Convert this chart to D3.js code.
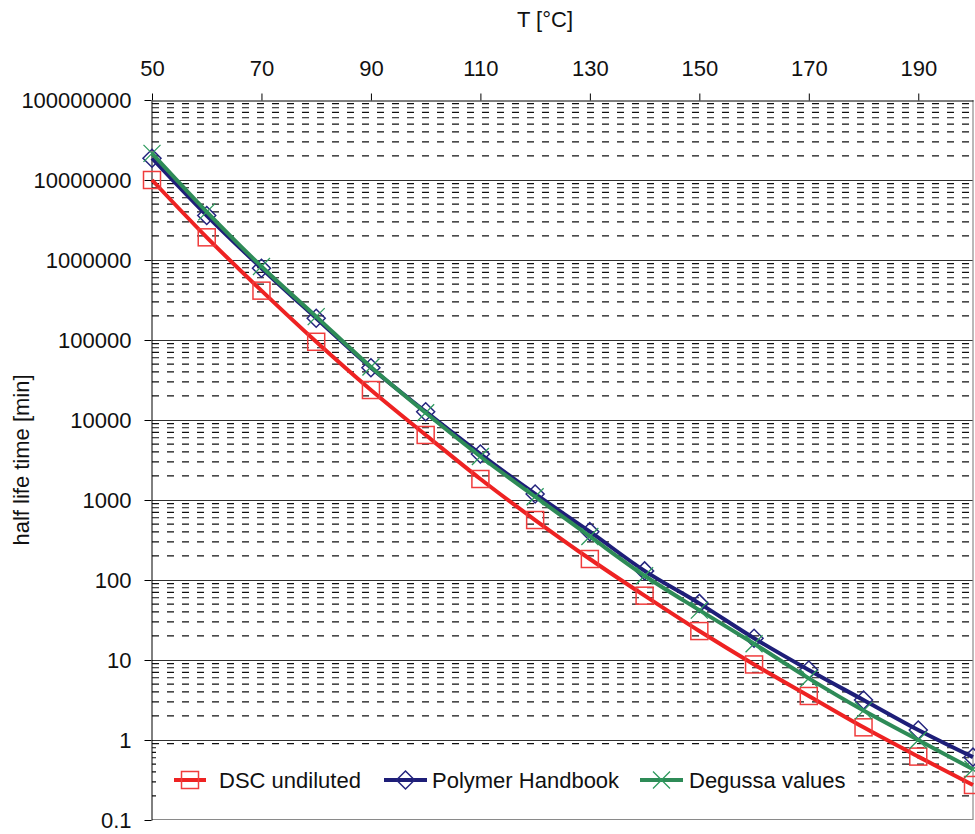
<!DOCTYPE html>
<html>
<head>
<meta charset="utf-8">
<script src="https://cdn.jsdelivr.net/npm/d3@7"></script>
<style>
  html, body { margin: 0; padding: 0; background: #fff; }
  svg text { font-family: "Liberation Sans", Arial, sans-serif; fill: #111; }
</style>
</head>
<body>
<svg id="chart" width="975" height="834"></svg>
<script>
// Temperatures [°C]
const temperatures = [50, 60, 70, 80, 90, 100, 110, 120, 130, 140, 150, 160, 170, 180, 190, 200];

// Half life time [min] for each source
const dscUndiluted = [1.0e7, 1.92e6, 4.14e5, 9.5e4, 2.37e4, 6.5e3, 1.83e3, 562, 183, 63.7, 23, 8.8, 3.55, 1.44, 0.62, 0.274];
const polymerHandbook = [1.87e7, 3.6e6, 7.9e5, 1.87e5, 4.5e4, 1.27e4, 3.76e3, 1.19e3, 402, 130, 51, 18.7, 7.5, 3.16, 1.33, 0.61];
const degussaValues = [2.15e7, 4.0e6, 8.3e5, 1.96e5, 4.6e4, 1.23e4, 3.5e3, 1.1e3, 350, 113, 42, 16, 5.9, 2.33, 1.0, 0.43];

const seriesNames = ["DSC undiluted", "Polymer Handbook", "Degussa values"];

// Axis ticks
const xTickValues = [50, 70, 90, 110, 130, 150, 170, 190];
const yTickValues = [0.1, 1, 10, 100, 1000, 10000, 100000, 1000000, 10000000, 100000000];
const yTickLabels = ["0.1", "1", "10", "100", "1000", "10000", "100000", "1000000", "10000000", "100000000"];

const svg = d3.select("#chart");
const plotLeft = 152, plotRight = 973, plotTop = 100, plotBottom = 820;

const x = d3.scaleLinear().domain([50, 200]).range([plotLeft, plotRight]);
const y = d3.scaleLog().domain([0.1, 1e8]).range([plotBottom, plotTop]);

// Minor gridlines (2..9 within each decade), dashed
const minor = [];
yTickValues.slice(0, -1).forEach(d => { for (let k = 2; k <= 9; k++) minor.push(d * k); });
svg.append("g").selectAll("line").data(minor).join("line")
  .attr("x1", plotLeft).attr("x2", plotRight)
  .attr("y1", d => y(d)).attr("y2", d => y(d))
  .attr("stroke", "#111").attr("stroke-width", 1.15)
  .attr("stroke-dasharray", "7,8");

// Major gridlines at each decade
svg.append("g").selectAll("line").data(yTickValues.slice(1, -1)).join("line")
  .attr("x1", plotLeft).attr("x2", plotRight)
  .attr("y1", d => Math.round(y(d)) + 0.5).attr("y2", d => Math.round(y(d)) + 0.5)
  .attr("stroke", "#333").attr("stroke-width", 1);

// Plot frame: right and bottom edges
svg.append("line").attr("x1", plotRight).attr("x2", plotRight).attr("y1", plotTop).attr("y2", plotBottom)
  .attr("stroke", "#8a8a8a").attr("stroke-width", 1.2);
svg.append("line").attr("x1", plotLeft).attr("x2", plotRight).attr("y1", plotBottom - 0.5).attr("y2", plotBottom - 0.5)
  .attr("stroke", "#8a8a8a").attr("stroke-width", 1.2);

// Top temperature axis
const xAxis = svg.append("g").attr("transform", `translate(0,${plotTop + 0.5})`)
  .call(d3.axisTop(x).tickValues(xTickValues).tickSize(7).tickPadding(18).tickSizeOuter(0));
xAxis.select(".domain").attr("stroke", "#000");
xAxis.selectAll(".tick line").attr("stroke", "#000");
xAxis.selectAll("text").style("font-size", "22px").attr("fill", "#111");

// Left log axis
const yAxis = svg.append("g").attr("transform", `translate(${plotLeft - 0.5},0)`)
  .call(d3.axisLeft(y).tickValues(yTickValues).tickSize(7).tickPadding(13).tickSizeOuter(0)
    .tickFormat((d, i) => yTickLabels[i]));
yAxis.select(".domain").attr("stroke", "#000");
yAxis.selectAll(".tick line").attr("stroke", "#000");
yAxis.selectAll("text").style("font-size", "22px").attr("fill", "#111");

// Axis titles
svg.append("text").attr("x", 545).attr("y", 27).attr("text-anchor", "middle")
  .style("font-size", "22px").text("T [°C]");
svg.append("text").attr("transform", "translate(29,460) rotate(-90)").attr("text-anchor", "middle")
  .style("font-size", "22px").text("half life time [min]");

// Legend background
svg.append("rect").attr("x", 156).attr("y", 746).attr("width", 702).attr("height", 71).attr("fill", "#fff");

const colors = ["#EE2222", "#1E1E78", "#2E8B57"];
const markerColors = ["#F03C3C", "#24247E", "#2E9A5E"];
const dataSets = [dscUndiluted, polymerHandbook, degussaValues];

function drawMarker(g, kind, cx, cy) {
  if (kind === 0) {
    g.append("rect").attr("x", cx - 8.5).attr("y", cy - 8.5).attr("width", 17).attr("height", 17)
      .attr("fill", "none").attr("stroke", markerColors[0]).attr("stroke-width", 1.5);
  } else if (kind === 1) {
    g.append("path").attr("d", `M${cx},${cy - 9}L${cx + 9},${cy}L${cx},${cy + 9}L${cx - 9},${cy}Z`)
      .attr("fill", "none").attr("stroke", markerColors[1]).attr("stroke-width", 1.5);
  } else {
    g.append("path").attr("d", `M${cx - 8.5},${cy - 8.5}L${cx + 8.5},${cy + 8.5}M${cx - 8.5},${cy + 8.5}L${cx + 8.5},${cy - 8.5}`)
      .attr("fill", "none").attr("stroke", markerColors[2]).attr("stroke-width", 1.3);
  }
}

const line = d3.line().x(d => x(d.t)).y(d => y(d.v)).curve(d3.curveCatmullRom.alpha(0.5));

dataSets.forEach((vals, si) => {
  const pts = temperatures.map((t, i) => ({ t, v: vals[i] }));
  const g = svg.append("g");
  g.append("path").datum(pts).attr("d", line)
    .attr("fill", "none").attr("stroke", colors[si]).attr("stroke-width", 4)
    .attr("stroke-linejoin", "round");
  pts.forEach(p => drawMarker(g, si, x(p.t), y(p.v)));
});

// Legend entries
const legendY = 780;
const legendItems = [
  { x1: 174, x2: 206, tx: 219 },
  { x1: 384, x2: 427, tx: 432 },
  { x1: 640, x2: 683, tx: 689 }
];
legendItems.forEach((it, i) => {
  const g = svg.append("g");
  g.append("line").attr("x1", it.x1).attr("x2", it.x2).attr("y1", legendY).attr("y2", legendY)
    .attr("stroke", colors[i]).attr("stroke-width", 4);
  drawMarker(g, i, (it.x1 + it.x2) / 2, legendY);
  g.append("text").attr("x", it.tx).attr("y", legendY + 8).style("font-size", "22px").text(seriesNames[i]);
});
</script>
</body>
</html>
